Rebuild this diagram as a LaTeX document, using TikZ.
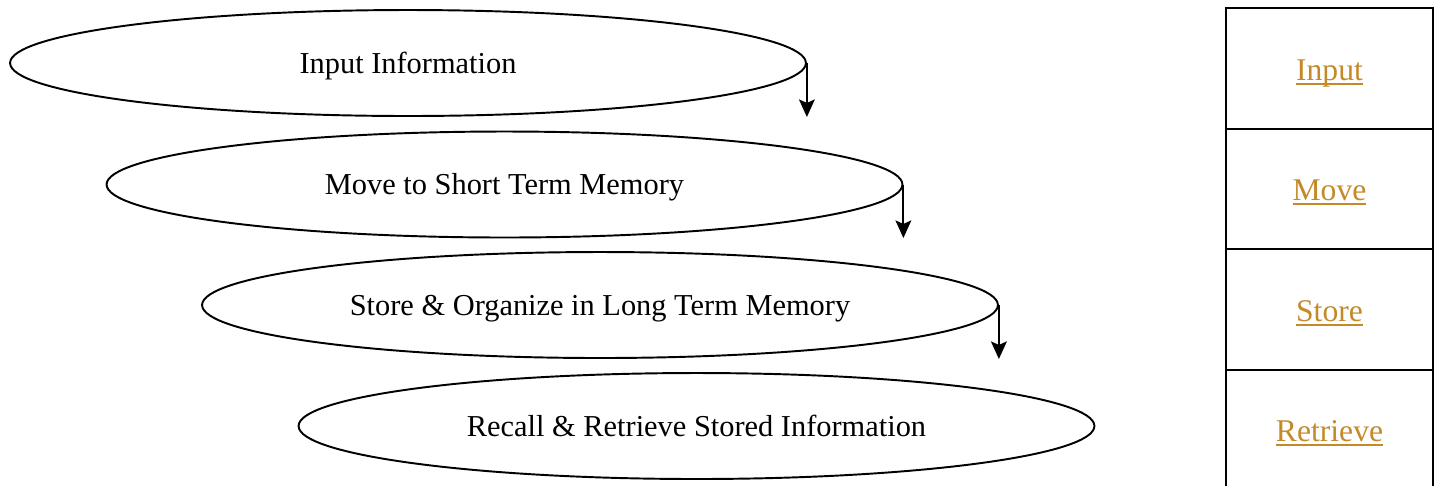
\documentclass[tikz,border=0pt]{standalone}
\usepackage{fontspec}
\setmainfont{Liberation Serif}
\usepackage{xcolor}
\usetikzlibrary{shapes.geometric, arrows.meta}
\definecolor{linkgold}{HTML}{C48A2A}
\newcommand{\linktext}[1]{\setbox0\hbox{#1}\rlap{\rule[-2.4pt]{\wd0}{1.1pt}}\box0}
\tikzset{
  stage/.style={ellipse, draw, line width=1.1pt, inner sep=0pt,
    minimum width=15.92cm, minimum height=2.12cm, text height=15.5pt, text depth=4pt,
    font=\fontsize{17.3}{20}\selectfont},
  cell/.style={rectangle, draw, line width=1.3pt, minimum width=4.14cm,
    minimum height=2.41cm, inner sep=0pt, text height=17.5pt, text depth=4pt,
    text=linkgold, font=\fontsize{18}{21}\selectfont},
  flow/.style={-{Stealth[length=10pt, width=9pt, inset=2pt]}, line width=1.1pt}
}

\begin{document}
\begin{tikzpicture}[x=0.02cm, y=-0.02cm]
            \useasboundingbox (0, 0) rectangle (1435, 485);
            \node[stage] (input) at (408, 63) {Input Information};
            \node[stage] (move) at (504.5, 184.5) {Move to Short Term Memory};
            \node[stage] (store) at (600, 305) {Store \& Organize in Long Term Memory};
            \node[stage] (recall) at (696.5, 426) {Recall \& Retrieve Stored Information};
            \coordinate (a1) at (806, 117);
            \coordinate (a2) at (903, 238);
            \coordinate (a3) at (998, 359);
            \draw[flow] (input.east) -- (input.east |- a1);
            \draw[flow] (move.east) -- (move.east |- a2);
            \draw[flow] (store.east) -- (store.east |- a3);
            \node[cell] (cinput) at (1329.5, 68.5) {\linktext{Input}};
            \node[cell] (cmove) at (1329.5, 189) {\linktext{Move}};
            \node[cell] (cstore) at (1329.5, 309.5) {\linktext{Store}};
            \node[cell] (cretrieve) at (1329.5, 430) {\linktext{Retrieve}};
          \end{tikzpicture}
\end{document}
